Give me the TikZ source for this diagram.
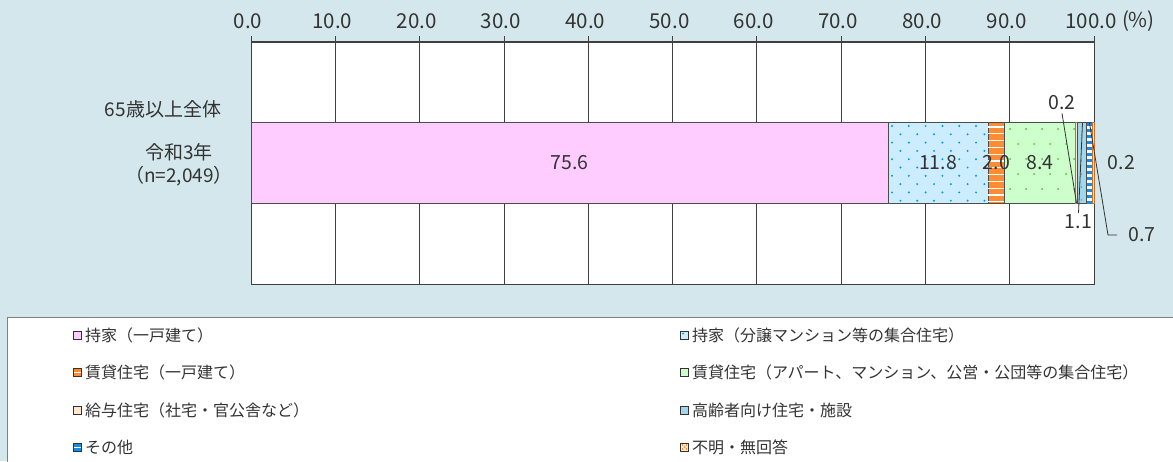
\documentclass[tikz,border=0pt]{standalone}
\usepackage{fontspec}
\setmainfont{Noto Sans CJK JP}
\usetikzlibrary{positioning,calc}

\definecolor{bgblue}{RGB}{211,231,236}
\definecolor{gridgray}{RGB}{64,64,64}
\definecolor{textgray}{RGB}{51,51,51}
\definecolor{ownpink}{RGB}{255,204,255}
\definecolor{mansionblue}{RGB}{204,236,255}
\definecolor{dotblue}{RGB}{0,153,230}
\definecolor{rentorange}{RGB}{255,140,51}
\definecolor{rentgreen}{RGB}{204,255,204}
\definecolor{dotgreen}{RGB}{102,178,68}
\definecolor{salarypeach}{RGB}{255,230,204}
\definecolor{elderblue}{RGB}{160,215,235}
\definecolor{otherblue}{RGB}{20,140,235}
\definecolor{legendgray}{RGB}{128,128,128}

\begin{document}
\begin{tikzpicture}[x=1pt,y=-1pt]
    \tikzset{
      axislabel/.style={font=\fontsize{20.5}{20.5}\selectfont,text=textgray,inner sep=0pt},
      catlabel/.style={font=\fontsize{19}{23}\selectfont,text=textgray,align=center,inner sep=0pt},
      barlabel/.style={font=\fontsize{19.5}{19.5}\selectfont,text=textgray,inner sep=1pt},
      segment/.style={draw=gray!60!black,line width=0.6pt},
      leader/.style={draw=textgray,line width=0.8pt},
      legendmark/.style={rectangle,draw=gray!40!black,line width=0.6pt,minimum size=8pt,inner sep=0pt},
      legendtext/.style={font=\fontsize{16}{16}\selectfont,text=textgray,inner sep=0pt,anchor=west}
    }
    \useasboundingbox (0,0) rectangle (1173,461);
    \fill[bgblue] (0,0) rectangle (1173,461);

    % plot area and grid
    \fill[white] (251,42) rectangle (1094,284);
    \foreach \p/\txt in {0/0.0,10/10.0,20/20.0,30/30.0,40/40.0,50/50.0,60/60.0,70/70.0,80/80.0,90/90.0,100/100.0}{
      \draw[gridgray,line width=0.8pt] ({251+8.43*\p},36) -- ({251+8.43*\p},284);
      \node[axislabel] (tick\p) at ({248+8.43*\p},21) {\txt};
    }
    \node[axislabel,right=5pt of tick100] (unit) {(\%)};
    \draw[gridgray,line width=0.8pt] (251,42) rectangle (1094,284);
    \draw[gridgray,line width=2pt] (251,42) -- (1094,42);

    % bar segments
    \draw[segment,fill=ownpink] (251,122) rectangle (888.3,203);
    \draw[segment,fill=mansionblue] (888.3,122) rectangle (987.8,203);
    \draw[segment,fill=rentorange] (987.8,122) rectangle (1004.6,203);
    \draw[segment,fill=rentgreen] (1004.6,122) rectangle (1075.5,203);
    \draw[segment,fill=salarypeach,draw=rentorange!80!black] (1075.5,122) rectangle (1077.1,203);
    \draw[segment,fill=elderblue] (1077.1,122) rectangle (1086.4,203);
    \draw[segment,fill=white] (1086.4,122) rectangle (1092.3,203);
    \draw[segment,fill=salarypeach,draw=rentorange!80!black] (1092.3,122) rectangle (1094,203);

    % fills
    \begin{scope}
      \clip (888.8,122.5) rectangle (987.3,202.5);
      \foreach \i in {0,...,6}{
        \foreach \j in {0,...,4}{
          \fill[dotblue] ({892+16.8*\i},{126+16.6*\j}) circle (1.1pt);
          \fill[dotblue] ({900.4+16.8*\i},{134.3+16.6*\j}) circle (1.1pt);
        }
      }
    \end{scope}
    \begin{scope}
      \clip (1005.1,122.5) rectangle (1075,202.5);
      \foreach \i in {0,...,4}{
        \foreach \j in {0,...,2}{
          \fill[dotgreen] ({1010+16*\i},{129+30*\j}) circle (1pt);
          \fill[dotgreen] ({1018+16*\i},{144+30*\j}) circle (1pt);
        }
      }
    \end{scope}
    \foreach \k in {0,...,11}{
      \draw[white,line width=1.1pt] (988.3,{127+6.8*\k}) -- (1004.1,{127+6.8*\k});
    }
    \foreach \k in {0,...,13}{
      \fill[otherblue] (1086.9,{122.5+6*\k}) rectangle (1091.8,{126+6*\k});
    }
    \foreach \k in {0,...,5}{
      \fill[gridgray!70!elderblue] (1081.5,{135+13*\k}) circle (0.6pt);
    }

    % bar labels
    \node[barlabel] (own) at (569.6,163) {75.6};
    \node[barlabel] (mansion) at (938,163) {11.8};
    \node[barlabel] (renthouse) at (996.5,163) {2.0};
    \node[barlabel] (rentflat) at (1040,163) {8.4};
    \node[barlabel,inner sep=3pt] (salary) at (1062,103) {0.2};
    \node[barlabel,fill=white,inner sep=1.5pt] (elder) at (1078.5,222) {1.1};
    \node[barlabel] (other) at (1142,235) {0.7};
    \node[barlabel] (unknown) at (1121.5,163) {0.2};

    \coordinate (salaryend) at (1076.5,203);
    \coordinate (elderend) at (1082.5,123);
    \coordinate (otherend) at (1089.5,123);
    \coordinate (otherbend) at (1108,235);
    \coordinate (otherfoot) at (1117,235);
    \draw[leader] (salary.south) -- (salaryend);
    \draw[leader] (elder.north) -- (elderend);
    \draw[leader] (otherend) -- (otherbend) -- (otherfoot);

    % category labels
    \node[catlabel] (all) at (163,109) {65歳以上全体};
    \node[catlabel] (year) at (179,165) {令和3年\\（n=2,049）};

    % legend
    \draw[legendgray,fill=white,line width=1pt] (7,317) rectangle (1180,470);
    \node[legendmark,fill=ownpink] (mkown) at (77.5,335) {};
    \node[legendmark,fill=rentorange,path picture={\draw[white,line width=1pt] (path picture bounding box.west) -- (path picture bounding box.east);}] (mkrenthouse) at (77.5,372) {};
    \node[legendmark,fill=salarypeach] (mksalary) at (77.5,410) {};
    \node[legendmark,fill=otherblue,path picture={\draw[white,line width=1pt] (path picture bounding box.west) -- (path picture bounding box.east);}] (mkother) at (77.5,447) {};
    \node[legendmark,fill=mansionblue,path picture={\fill[dotblue] (path picture bounding box.center) ++(-1.5pt,1.5pt) circle (1pt);}] (mkmansion) at (684.5,335) {};
    \node[legendmark,fill=rentgreen] (mkrentflat) at (684.5,372) {};
    \node[legendmark,fill=elderblue] (mkelder) at (684.5,410) {};
    \node[legendmark,fill=salarypeach,path picture={
        \foreach \a/\b in {-3/-3,-1/-1,1/1,3/3,-3/1,1/-3,-1/3,3/-1}{\fill[rentorange] ($(path picture bounding box.center)+(\a pt,\b pt)$) rectangle ++(1.6pt,1.6pt);}
      }] (mkunknown) at (684.5,447) {};

    \node[legendtext,right=3pt of mkown] (lgown) {持家（一戸建て）};
    \node[legendtext,right=3pt of mkrenthouse] (lgrenthouse) {賃貸住宅（一戸建て）};
    \node[legendtext,right=3pt of mksalary] (lgsalary) {給与住宅（社宅・官公舎など）};
    \node[legendtext,right=3pt of mkother] (lgother) {その他};
    \node[legendtext,right=3pt of mkmansion] (lgmansion) {持家（分譲マンション等の集合住宅）};
    \node[legendtext,right=3pt of mkrentflat] (lgrentflat) {賃貸住宅（アパート、マンション、公営・公団等の集合住宅）};
    \node[legendtext,right=3pt of mkelder] (lgelder) {高齢者向け住宅・施設};
    \node[legendtext,right=3pt of mkunknown] (lgunknown) {不明・無回答};
\end{tikzpicture}
\end{document}
